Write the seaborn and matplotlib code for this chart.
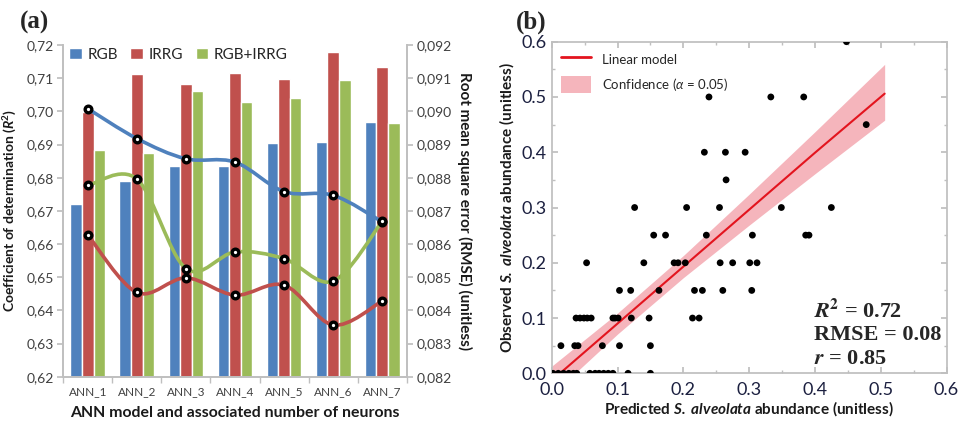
import numpy as np
import pandas as pd
import matplotlib
matplotlib.use('Agg')
import matplotlib.pyplot as plt
import seaborn as sns
from matplotlib.path import Path
from matplotlib.patches import PathPatch, Patch
from matplotlib.lines import Line2D
from matplotlib.ticker import FuncFormatter, MultipleLocator

# ---- panel (a) data ----
models = ['ANN_1', 'ANN_2', 'ANN_3', 'ANN_4', 'ANN_5', 'ANN_6', 'ANN_7']
r2_rgb = [0.6722, 0.6790, 0.6836, 0.6836, 0.6904, 0.6907, 0.6967]
r2_irrg = [0.6999, 0.7112, 0.7081, 0.7116, 0.7099, 0.7179, 0.7133]
r2_both = [0.6884, 0.6873, 0.7060, 0.7027, 0.7041, 0.7094, 0.6964]
rmse_rgb = [0.09008, 0.08918, 0.08857, 0.08847, 0.08758, 0.08747, 0.08667]
rmse_irrg = [0.08627, 0.08454, 0.08498, 0.08446, 0.08476, 0.08356, 0.08428]
rmse_both = [0.08777, 0.08796, 0.08526, 0.08576, 0.08556, 0.08488, 0.08668]

# ---- panel (b) data ----
pred = [0.448,
        0.239, 0.333, 0.383, 0.478,
        0.232, 0.264, 0.294, 0.265,
        0.126, 0.205, 0.255, 0.349, 0.425,
        0.155, 0.173, 0.235, 0.305, 0.386, 0.391,
        0.053, 0.140, 0.186, 0.192, 0.203, 0.256, 0.275, 0.301, 0.312,
        0.103, 0.120, 0.163, 0.217, 0.229, 0.260, 0.304,
        0.037, 0.043, 0.049, 0.054, 0.060, 0.093, 0.096, 0.101, 0.121, 0.148, 0.214, 0.224,
        0.014, 0.035, 0.040, 0.077, 0.103, 0.150,
        0.002, 0.010, 0.018, 0.026, 0.033, 0.038, 0.058, 0.066, 0.072, 0.079, 0.086, 0.093,
        0.116, 0.150]
obs = [0.60,
       0.50, 0.50, 0.50, 0.45,
       0.40, 0.40, 0.40, 0.35,
       0.30, 0.30, 0.30, 0.30, 0.30,
       0.25, 0.25, 0.25, 0.25, 0.25, 0.25,
       0.20, 0.20, 0.20, 0.20, 0.20, 0.20, 0.20, 0.20, 0.20,
       0.15, 0.15, 0.15, 0.15, 0.15, 0.15, 0.15,
       0.10, 0.10, 0.10, 0.10, 0.10, 0.10, 0.10, 0.10, 0.10, 0.10, 0.10, 0.10,
       0.05, 0.05, 0.05, 0.05, 0.05, 0.05,
       0.0, 0.0, 0.0, 0.0, 0.0, 0.0, 0.0, 0.0, 0.0, 0.0, 0.0, 0.0,
       0.0, 0.0]
fit_x = [0.0, 0.1, 0.2, 0.3, 0.4, 0.506]
fit_y = [-0.013, 0.090, 0.193, 0.296, 0.399, 0.506]
band_lo = [-0.039, 0.071, 0.173, 0.268, 0.361, 0.458]
band_hi = [0.013, 0.109, 0.213, 0.324, 0.437, 0.559]

blue, red, green = '#4F81BD', '#C0504D', '#9BBB59'
sans = 'Lato'

sns.set_theme(style='white')
plt.rcParams['font.family'] = [sans, 'DejaVu Sans']
plt.rcParams['mathtext.fontset'] = 'custom'
plt.rcParams['mathtext.rm'] = sans
plt.rcParams['mathtext.it'] = sans + ':italic'
plt.rcParams['mathtext.bf'] = sans + ':bold'
plt.rcParams['mathtext.bfit'] = sans + ':bold:italic'

fig = plt.figure(figsize=(9.58, 4.25), dpi=100)
ax = fig.add_axes([0.0661, 0.1136, 0.3584, 0.7805])
ax2 = ax.twinx()

df = pd.DataFrame({
    'model': models * 3,
    'r2': r2_rgb + r2_irrg + r2_both,
    'set': ['RGB'] * 7 + ['IRRG'] * 7 + ['RGB+IRRG'] * 7,
})
sns.barplot(data=df, x='model', y='r2', hue='set', hue_order=['RGB', 'IRRG', 'RGB+IRRG'],
            palette=[blue, red, green], width=0.71, saturation=1, ax=ax)
ax.set_ylim(0.62, 0.72)
ax.set_xlim(-0.45, 6.5)
ax.yaxis.set_major_locator(MultipleLocator(0.01))
ax.yaxis.set_major_formatter(FuncFormatter(lambda v, p: f'{v:.2f}'.replace('.', ',')))
ax.legend(loc='upper left', ncol=3, frameon=False, fontsize=11, handlelength=0.8,
          handleheight=0.8, columnspacing=0.8, handletextpad=0.4,
          borderaxespad=0.0, bbox_to_anchor=(0.0, 1.01))


def smooth_path(xs, ys):
    # Excel-style smooth line: cubic bezier through points
    pts = np.column_stack([xs, ys]).astype(float)
    n = len(pts)
    verts = [pts[0]]
    codes = [Path.MOVETO]
    for i in range(n - 1):
        p0 = pts[max(i - 1, 0)]
        p1 = pts[i]
        p2 = pts[i + 1]
        p3 = pts[min(i + 2, n - 1)]
        verts += [p1 + (p2 - p0) / 6, p2 - (p3 - p1) / 6, p2]
        codes += [Path.CURVE4] * 3
    return Path(verts, codes)


xpos = np.arange(len(models))
for vals, col in [(rmse_rgb, blue), (rmse_both, green), (rmse_irrg, red)]:
    ax2.add_patch(PathPatch(smooth_path(xpos, vals), facecolor='none', edgecolor=col,
                            lw=2.6, zorder=3))
    ax2.plot(xpos, vals, ls='none', marker='o', ms=4.8, mfc='white', mec='black',
             mew=2.4, zorder=4)
ax2.set_ylim(0.082, 0.092)
ax2.yaxis.set_major_locator(MultipleLocator(0.001))
ax2.yaxis.set_major_formatter(FuncFormatter(lambda v, p: f'{v:.3f}'.replace('.', ',')))

for a in (ax, ax2):
    for s in a.spines.values():
        s.set_color('#BFBFBF')
    a.spines['top'].set_visible(False)
    a.tick_params(axis='y', length=4, color='#BFBFBF', labelsize=10, labelcolor='#404040',
                  direction='out')
ax.tick_params(axis='y', left=True, pad=3)
ax2.tick_params(axis='y', right=True, pad=3)
ax.set_xticks(np.arange(-0.5, 7), minor=True)
ax.tick_params(axis='x', which='major', length=0, labelsize=8.5, labelcolor='#404040', pad=7)
ax.tick_params(axis='x', which='minor', length=4, color='#BFBFBF', bottom=True)

ax.set_xlabel('ANN model and associated number of neurons', fontsize=11.4, fontweight='bold',
              labelpad=6, color='#1a1a1a')
ax.set_ylabel(r'Coefficient of determination ($\mathbfit{R}^{\mathbf{2}}$)', fontsize=10,
              fontweight='bold', labelpad=5, color='#1a1a1a')
ax2.set_ylabel('Root mean square error (RMSE) (unitless)', fontsize=11, fontweight='bold',
               rotation=-90, labelpad=15, color='#1a1a1a')

# ---- panel (b) ----
bx = fig.add_axes([0.5759, 0.1216, 0.4121, 0.7803])
bx.fill_between(fit_x, band_lo, band_hi, color='#F5B5BC', lw=0, zorder=1)
bx.plot(fit_x, fit_y, color='#E3141E', lw=1.5, zorder=2)
sns.scatterplot(x=pred, y=obs, color='black', s=24, edgecolor='none', ax=bx, zorder=3)
bx.set_xlim(0, 0.6)
bx.set_ylim(0, 0.6)
bx.xaxis.set_major_locator(MultipleLocator(0.1))
bx.yaxis.set_major_locator(MultipleLocator(0.1))
bx.xaxis.set_minor_locator(MultipleLocator(0.05))
bx.yaxis.set_minor_locator(MultipleLocator(0.05))
bx.xaxis.set_major_formatter(FuncFormatter(lambda v, p: f'{v:.1f}'))
bx.yaxis.set_major_formatter(FuncFormatter(lambda v, p: f'{v:.1f}'))
for s in bx.spines.values():
    s.set_color('#BFBFBF')
bx.tick_params(which='both', direction='in', color='#BFBFBF', labelsize=13,
               labelcolor='#1c2040', left=True, bottom=True, top=True, right=True)
bx.tick_params(which='major', length=4)
bx.tick_params(which='minor', length=2)
bx.tick_params(axis='x', pad=6)
bx.tick_params(top=True, right=True, labeltop=False, labelright=False)

bx.set_xlabel(r'Predicted $\mathbfit{S.}$ $\mathbfit{alveolata}$ abundance (unitless)',
              fontsize=11, fontweight='bold', labelpad=1, color='#1a1a1a')
bx.set_ylabel(r'Observed $\mathbfit{S.}$ $\mathbfit{alveolata}$ abundance (unitless)',
              fontsize=11, fontweight='bold', labelpad=4, color='#1a1a1a')

handles = [Line2D([], [], color='#E3141E', lw=2),
           Patch(facecolor='#F5B5BC', edgecolor='none')]
bx.legend(handles, ['Linear model', r'Confidence ($\alpha$ = 0.05)'], loc='upper left',
          frameon=False, fontsize=9.5, handlelength=2.3, handleheight=1.6, labelspacing=0.6,
          borderaxespad=0.3)

serif = 'Liberation Serif'
bx.text(0.665, 0.188, r'$\mathbfit{R}^{\mathbf{2}}$ = 0.72', transform=bx.transAxes,
        fontsize=16, fontweight='bold', family=serif, math_fontfamily='stix', va='center')
bx.text(0.665, 0.116, 'RMSE = 0.08', transform=bx.transAxes,
        fontsize=16, fontweight='bold', family=serif, va='center')
bx.text(0.665, 0.043, r'$\mathbfit{r}$ = 0.85', transform=bx.transAxes,
        fontsize=16, fontweight='bold', family=serif, math_fontfamily='stix', va='center')

fig.text(0.021, 0.948, '(a)', fontsize=18, fontweight='bold', family=serif, va='center')
fig.text(0.538, 0.948, '(b)', fontsize=18, fontweight='bold', family=serif, va='center')

fig.savefig('out.png', dpi=100)
